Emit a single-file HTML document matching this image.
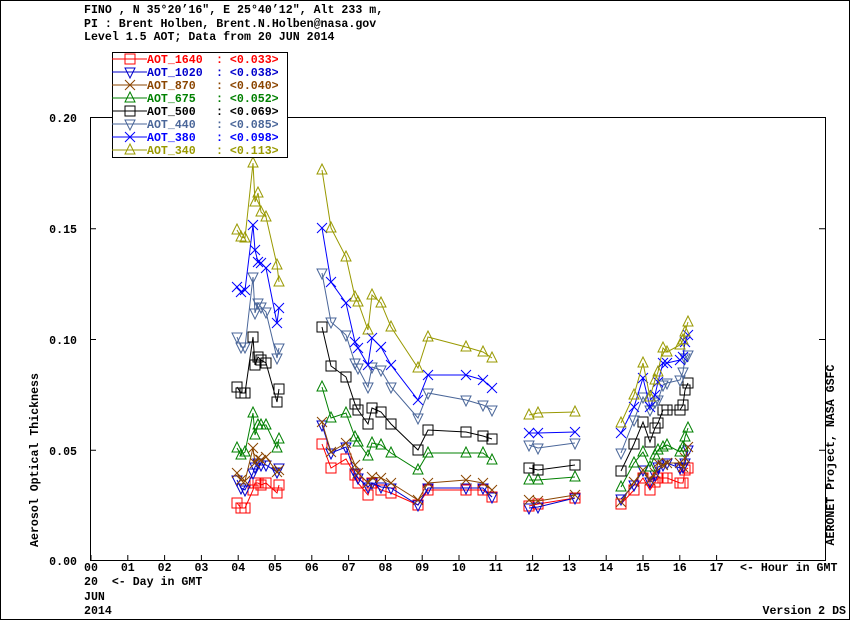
<!DOCTYPE html>
<html><head><style>
body{margin:0;background:#fff}
svg text{font-family:"Liberation Mono","DejaVu Sans Mono",monospace;font-weight:bold;font-size:11.6px;white-space:pre}
</style></head><body>
<svg id="s" width="850" height="620" xmlns="http://www.w3.org/2000/svg">
<rect x="0.5" y="0.5" width="849" height="619" fill="#fff" stroke="#000"/>
<text x="84" y="13">FINO , N 35°20’16", E 25°40’12", Alt 233 m,</text>
<text x="84" y="27">PI : Brent Holben, Brent.N.Holben@nasa.gov</text>
<text x="84" y="40">Level 1.5 AOT; Data from 20 JUN 2014</text>
<rect x="90.5" y="117.5" width="735" height="443" fill="none" stroke="#000"/>
<g id="ax"></g>
<g id="data"></g>
<rect x="112.5" y="52.5" width="175" height="105" fill="#fff" stroke="#000"/>
<g id="leg"></g>
<text x="77" y="122" text-anchor="end">0.20</text>
<text x="77" y="233" text-anchor="end">0.15</text>
<text x="77" y="344" text-anchor="end">0.10</text>
<text x="77" y="455" text-anchor="end">0.05</text>
<text x="77" y="565" text-anchor="end">0.00</text>
<text transform="translate(38,460) rotate(-90)" text-anchor="middle">Aerosol Optical Thickness</text>
<text transform="translate(834,455) rotate(-90)" text-anchor="middle">AERONET Project, NASA GSFC</text>
<text x="740" y="571">&lt;- Hour in GMT</text>
<text x="84" y="585">20&#160;&#160;&lt;- Day in GMT</text>
<text x="84" y="600">JUN</text>
<text x="84" y="614">2014</text>
<text x="846" y="614" text-anchor="end">Version 2 DS</text>
</svg>
<script>
const NS="http://www.w3.org/2000/svg";
function el(p,t,a){const e=document.createElementNS(NS,t);for(const k in a)e.setAttribute(k,a[k]);p.appendChild(e);return e;}
const ax=document.getElementById('ax'),data=document.getElementById('data'),leg=document.getElementById('leg');
for(let h=0;h<=17;h++){const x=91+h*36.8;el(ax,'text',{x:x,y:571,'text-anchor':'middle'}).textContent=(h<10?'0':'')+h;
 el(ax,'line',{x1:x,y1:561,x2:x,y2:555,stroke:'#000'});}
for(let i=1;i<4;i++){const y=561-i*110.75;el(ax,'line',{x1:90,y1:y,x2:96,y2:y,stroke:'#000'});el(ax,'line',{x1:825,y1:y,x2:819,y2:y,stroke:'#000'});}
const X1=[237,241,245,253,255,258,261,266,277,279];
const X2=[322,331,346,355,358,368,372,381,391,418,428,466,483,492];
const X3=[529,538,575];
const X4=[621,634,643,650,655,658,663,667,680,683,685,688];
const S=[
{n:'AOT_1640',v:'0.033',c:'#ff0000',m:'sq',g:[[503,508,508,490,483,483,485,483,493,485],[444,468,459,475,483,495,483,490,493,505,490,490,490,497],[506,504,498],[504,490,478,490,482,478,478,478,483,483,470,468]]},
{n:'AOT_1020',v:'0.038',c:'#0000cc',m:'dn',g:[[480,488,490,473,467,463,465,465,472,468],[425,453,447,473,478,487,483,487,488,505,488,488,488,497],[508,507,498],[499,485,470,482,475,467,465,463,468,467,463,450]]},
{n:'AOT_870',v:'0.040',c:'#8b4500',m:'x',g:[[473,480,481,448,463,458,460,457,472,470],[422,452,443,465,473,483,477,478,483,500,483,480,483,490],[500,501,495],[502,482,470,480,473,463,465,463,463,467,458,447]]},
{n:'AOT_675',v:'0.052',c:'#008000',m:'up',g:[[448,455,452,413,435,425,425,425,448,439],[387,418,413,437,442,456,443,445,453,470,453,453,453,460],[480,480,477],[487,463,452,467,455,450,447,445,452,447,437,428]]},
{n:'AOT_500',v:'0.069',c:'#000000',m:'sq',g:[[387,393,393,337,365,357,360,363,402,389],[327,366,377,404,410,424,408,412,424,450,430,432,436,439],[468,470,465],[471,444,422,442,428,423,410,410,410,405,390,383]]},
{n:'AOT_440',v:'0.085',c:'#4a6699',m:'dn',g:[[337,347,347,277,313,303,307,312,358,348],[273,322,335,363,368,387,367,370,387,418,393,400,405,410],[445,448,443],[453,420,397,410,402,400,385,383,380,372,358,355]]},
{n:'AOT_380',v:'0.098',c:'#0000ff',m:'x',g:[[287,292,290,225,250,262,263,268,323,308],[228,282,303,342,348,365,338,347,365,400,375,375,380,388],[433,433,432],[433,407,378,407,395,382,363,363,360,357,342,335]]},
{n:'AOT_340',v:'0.113',c:'#999900',m:'up',g:[[230,237,238,163,202,193,212,217,265,282],[170,228,257,297,302,330,295,303,327,368,337,347,352,358],[415,413,412],[423,395,363,397,380,372,348,352,345,340,332,322]]}
];
const XS=[X1,X2,X3,X4];
function mk(p,m,x,y,c){const a={fill:'none',stroke:c};
 if(m=='sq')el(p,'rect',Object.assign({x:x-5,y:y-5,width:10,height:10},a));
 else if(m=='up')el(p,'polygon',Object.assign({points:`${x},${y-6} ${x-5},${y+4} ${x+5},${y+4}`},a));
 else if(m=='dn')el(p,'polygon',Object.assign({points:`${x},${y+6} ${x-5},${y-4} ${x+5},${y-4}`},a));
 else el(p,'path',Object.assign({d:`M${x-5} ${y-5}L${x+5} ${y+5}M${x-5} ${y+5}L${x+5} ${y-5}`},a));}
S.forEach(s=>{s.g.forEach((ys,gi)=>{const xs=XS[gi];
 el(data,'polyline',{points:ys.map((y,i)=>xs[i]+','+y).join(' '),fill:'none',stroke:s.c});
 ys.forEach((y,i)=>mk(data,s.m,xs[i],y,s.c));});});
S.forEach((s,i)=>{const y=59+i*13;
 el(leg,'line',{x1:112,y1:y,x2:147,y2:y,stroke:s.c});mk(leg,s.m,130,y,s.c);
 el(leg,'text',{x:147,y:y+4,fill:s.c}).textContent=s.n;
 el(leg,'text',{x:216,y:y+4,fill:s.c}).textContent=': <'+s.v+'>';});
</script>
</body></html>
